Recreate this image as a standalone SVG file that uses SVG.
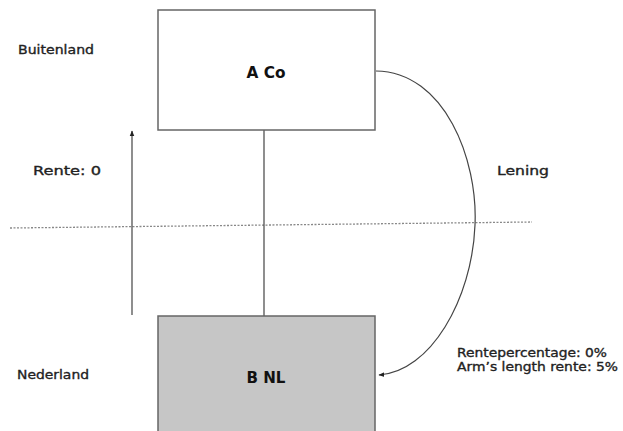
<svg xmlns="http://www.w3.org/2000/svg" width="623" height="431" viewBox="0 0 623 431">
<style>
.lbl{font-family:"DejaVu Sans","Liberation Sans",sans-serif;font-size:12.5px;fill:#222;stroke:#222;stroke-width:0.35}
.bold{font-family:"DejaVu Sans","Liberation Sans",sans-serif;font-size:15px;font-weight:bold;fill:#111;text-anchor:middle}
.box{stroke:#666;stroke-width:1.5}
.conn{fill:none;stroke:#444;stroke-width:1.2}
</style>
<defs>
<marker id="ah" viewBox="0 0 10 10" refX="9" refY="5" markerWidth="5" markerHeight="5" orient="auto">
<path d="M0,1 L10,5 L0,9 z" fill="#222"/>
</marker>
</defs>
<rect width="623" height="431" fill="#fff"/>
<g id="connectors">
<line x1="10" y1="228" x2="532" y2="222" stroke="#888" stroke-width="1.3" stroke-dasharray="2,1.5"/>
<line class="conn" x1="264" y1="130" x2="264" y2="316"/>
<line class="conn" x1="132" y1="315" x2="132" y2="131" marker-end="url(#ah)"/>
<path class="conn" d="M376,71 C445,72 478,160 475,225 C472,300 430,372 379,375" marker-end="url(#ah)"/>
</g>
<g id="node-aco">
<rect class="box" x="158" y="10" width="217" height="120" fill="#fff"/>
<text class="bold" x="266" y="78" textLength="39" lengthAdjust="spacingAndGlyphs">A Co</text>
</g>
<g id="node-bnl">
<rect class="box" x="158" y="316" width="217" height="125" fill="#c6c6c6"/>
<text class="bold" x="266" y="383" textLength="39" lengthAdjust="spacingAndGlyphs">B NL</text>
</g>
<g id="labels">
<text class="lbl" x="18" y="54" textLength="76" lengthAdjust="spacingAndGlyphs">Buitenland</text>
<text class="lbl" x="33" y="175" font-size="14" textLength="68" lengthAdjust="spacingAndGlyphs">Rente: 0</text>
<text class="lbl" x="497" y="175" font-size="14" textLength="52" lengthAdjust="spacingAndGlyphs">Lening</text>
<text class="lbl" x="17" y="379" textLength="72" lengthAdjust="spacingAndGlyphs">Nederland</text>
<text class="lbl" x="457" y="357" font-size="13" textLength="150" lengthAdjust="spacingAndGlyphs">Rentepercentage: 0%</text>
<text class="lbl" x="457" y="371" font-size="13" textLength="161" lengthAdjust="spacingAndGlyphs">Arm’s length rente: 5%</text>
</g>
</svg>
